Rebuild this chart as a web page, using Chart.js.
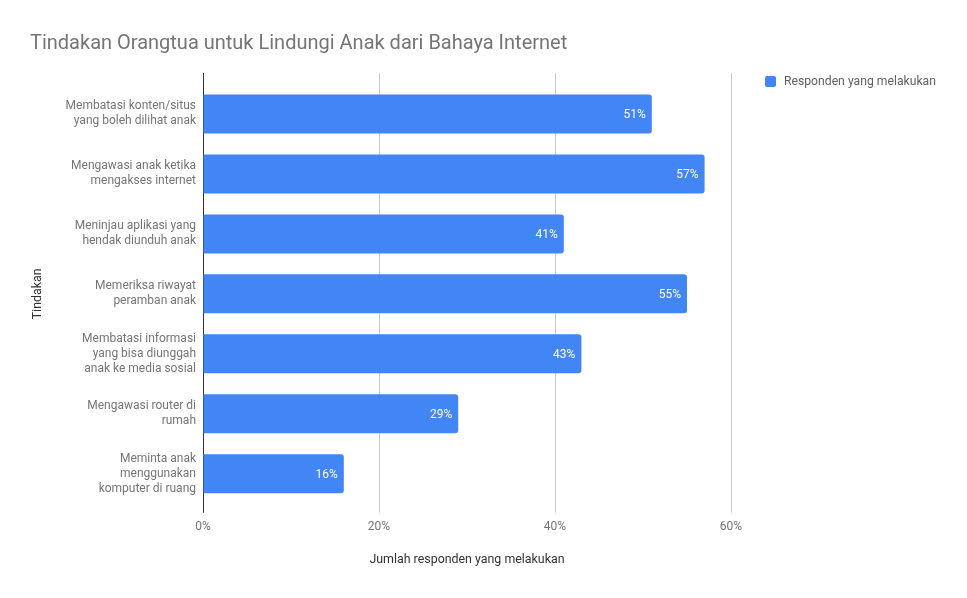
<!DOCTYPE html>
<html>
<head>
<meta charset="utf-8">
<script src="https://cdn.jsdelivr.net/npm/chart.js@4.4.1/dist/chart.umd.min.js"></script>
<style>
  html, body { margin: 0; padding: 0; background: #fff; }
  #wrap { width: 967px; height: 598px; position: relative; }
</style>
</head>
<body>
<div id="wrap"><canvas id="tindakanChart"></canvas></div>
<script>
// Data
const categories = [
    ['Membatasi konten/situs', 'yang boleh dilihat anak'],
    ['Mengawasi anak ketika', 'mengakses internet'],
    ['Meninjau aplikasi yang', 'hendak diunduh anak'],
    ['Memeriksa riwayat', 'peramban anak'],
    ['Membatasi informasi', 'yang bisa diunggah', 'anak ke media sosial'],
    ['Mengawasi router di', 'rumah'],
    ['Meminta anak', 'menggunakan', 'komputer di ruang']
];
const responden = [51, 57, 41, 55, 43, 29, 16];
const xTicks = [0, 20, 40, 60];
const seriesName = 'Responden yang melakukan';
const barColor = '#4285f4';

Chart.defaults.font.family = 'Roboto, "Noto Sans", sans-serif';

// label persen di ujung batang
const barLabels = {
    id: 'barLabels',
    afterDatasetsDraw(chart) {
        const ctx = chart.ctx;
        const meta = chart.getDatasetMeta(0);
        ctx.save();
        ctx.font = '12px Roboto';
        ctx.fillStyle = '#ffffff';
        ctx.textAlign = 'right';
        ctx.textBaseline = 'middle';
        meta.data.forEach((bar, i) => {
            ctx.fillText(responden[i] + '%', bar.x - 6, bar.y + 1);
        });
        ctx.restore();
    }
};

// legenda di kanan atas (legend bawaan terlalu sempit di posisi kanan)
const sideLegend = {
    id: 'sideLegend',
    afterDraw(chart) {
        const ctx = chart.ctx;
        const area = chart.chartArea;
        const x = area.right + 34;
        const y = area.top - 8;
        ctx.save();
        ctx.fillStyle = chart.data.datasets[0].backgroundColor;
        ctx.beginPath();
        ctx.roundRect(x, y, 11, 11, 2);
        ctx.fill();
        ctx.font = '12.2px Roboto';
        ctx.fillStyle = '#616161';
        ctx.textAlign = 'left';
        ctx.textBaseline = 'middle';
        ctx.fillText(chart.data.datasets[0].label, x + 19, y + 6);
        ctx.restore();
    }
};

const gridColor = (c) => (c.tick && c.tick.value === 0) ? '#333333' : '#cccccc';

new Chart(document.getElementById('tindakanChart'), {
    type: 'bar',
    data: {
        labels: categories,
        datasets: [{
            label: seriesName,
            data: responden,
            backgroundColor: barColor,
            borderWidth: 0,
            borderRadius: 3,
            borderSkipped: 'start',
            barPercentage: 0.65,
            categoryPercentage: 1.0
        }]
    },
    options: {
        indexAxis: 'y',
        responsive: true,
        maintainAspectRatio: false,
        animation: false,
        layout: { padding: { left: 30, right: 236, top: 0, bottom: 0 } },
        plugins: {
            title: {
                display: true,
                text: 'Tindakan Orangtua untuk Lindungi Anak dari Bahaya Internet',
                align: 'start',
                color: '#757575',
                font: { size: 20, weight: 'normal' },
                padding: { top: 32, bottom: 10 }
            },
            legend: { display: false },
            tooltip: { enabled: true }
        },
        scales: {
            x: {
                position: 'bottom',
                min: 0,
                max: 60,
                afterBuildTicks: (s) => { s.ticks = xTicks.map(v => ({ value: v })); },
                ticks: {
                    color: '#757575',
                    font: { size: 12 },
                    padding: 7,
                    callback: (v) => v + '%'
                },
                grid: { color: gridColor, drawTicks: true, tickLength: 9 },
                border: { display: false },
                title: {
                    display: true,
                    text: 'Jumlah responden yang melakukan',
                    color: '#333333',
                    font: { size: 12.4 },
                    padding: { top: 11, bottom: 31 }
                }
            },
            // sumbu atas: hanya untuk memanjangkan garis grid ke atas
            x2: {
                position: 'top',
                min: 0,
                max: 60,
                afterBuildTicks: (s) => { s.ticks = xTicks.map(v => ({ value: v })); },
                ticks: { display: false },
                grid: { color: gridColor, drawOnChartArea: false, drawTicks: true, tickLength: 11 },
                border: { display: false },
                afterFit: (s) => { s.height = 18; }
            },
            y: {
                position: 'left',
                ticks: {
                    color: '#757575',
                    font: { size: 12, lineHeight: 1.25 },
                    padding: 7
                },
                grid: { display: false, drawTicks: false, tickLength: 0 },
                border: { display: false },
                title: {
                    display: true,
                    text: 'Tindakan',
                    color: '#333333',
                    font: { size: 12.4 },
                    padding: { top: 0, bottom: 0 }
                },
                afterFit: (s) => { s.width = 173; }
            }
        }
    },
    plugins: [barLabels, sideLegend]
});
</script>
</body>
</html>
